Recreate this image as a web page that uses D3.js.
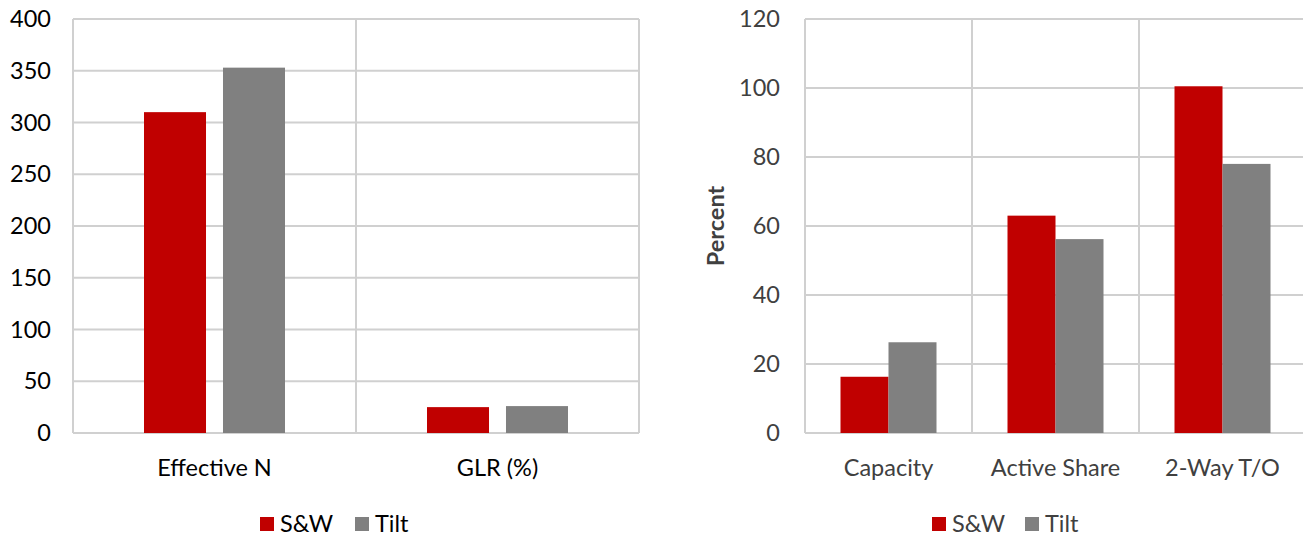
<!DOCTYPE html>
<html><head><meta charset="utf-8">
<script src="https://cdn.jsdelivr.net/npm/d3@7"></script>
<style>body{margin:0;background:#fff}svg{display:block}text{font-family:Lato,"Open Sans",sans-serif}</style>
</head><body><svg id="c" width="1303" height="538"></svg>
<script>
const series = ["S&W", "Tilt"];
const colors = ["#c00000", "#808080"];
const leftCategories = ["Effective N", "GLR (%)"];
const leftSW = [310, 25];
const leftTilt = [353, 26];
const leftTicks = [0, 50, 100, 150, 200, 250, 300, 350, 400];
const rightCategories = ["Capacity", "Active Share", "2-Way T/O"];
const rightSW = [16.3, 63.0, 100.5];
const rightTilt = [26.3, 56.2, 78.0];
const rightTicks = [0, 20, 40, 60, 80, 100, 120];

const svg = d3.select("#c");
const grid = "#d0d0d0";
const FS = 23.5;

function chart(o) {
  const g = svg.append("g");
  const x = d3.scaleBand().domain(o.cats).range([o.x0, o.x1]);
  const y = d3.scaleLinear().domain([0, o.max]).range([433, 19]);
  const inner = d3.scaleBand().domain(series).range([0, o.groupW]).paddingInner(o.gap);
  g.selectAll(".h").data(o.ticks).join("line")
    .attr("x1", o.x0).attr("x2", o.x1).attr("y1", d => y(d)).attr("y2", d => y(d))
    .attr("stroke", grid).attr("stroke-width", 2);
  const bounds = o.cats.map(c => x(c)).concat([o.x1]);
  g.selectAll(".v").data(bounds).join("line")
    .attr("x1", d => d).attr("x2", d => d).attr("y1", y(o.max)).attr("y2", y(0))
    .attr("stroke", grid).attr("stroke-width", 2);
  const data = [];
  o.cats.forEach((c, i) => { data.push({c, s: "S&W", v: o.sw[i]}); data.push({c, s: "Tilt", v: o.tilt[i]}); });
  g.selectAll(".b").data(data).join("rect")
    .attr("x", d => x(d.c) + (x.bandwidth() - o.groupW) / 2 + inner(d.s))
    .attr("width", inner.bandwidth())
    .attr("y", d => y(d.v)).attr("height", d => y(0) - y(d.v))
    .attr("fill", d => colors[series.indexOf(d.s)]);
  const ya = d3.axisLeft(y).tickValues(o.ticks).tickSize(0).tickPadding(0);
  const yg = g.append("g").attr("transform", `translate(${o.labelX},0)`).call(ya);
  yg.select(".domain").remove();
  yg.selectAll("text").attr("font-size", FS).attr("fill", o.textColor).attr("font-family", "Lato");
  const xa = d3.axisBottom(x).tickSize(0).tickPadding(0);
  const xg = g.append("g").attr("transform", `translate(0,459)`).call(xa);
  xg.select(".domain").remove();
  xg.selectAll("text").attr("font-size", FS).attr("fill", o.textColor).attr("font-family", "Lato");
  const lg = g.append("g").attr("transform", `translate(${o.legendX},517)`);
  series.forEach((s, i) => {
    const off = i === 0 ? 0 : o.legendGap;
    lg.append("rect").attr("x", off).attr("y", 0).attr("width", 14).attr("height", 14).attr("fill", colors[i]);
    lg.append("text").attr("x", off + 20).attr("y", 15).attr("font-size", FS).attr("fill", o.textColor).text(s);
  });
  if (o.title) {
    g.append("text").attr("transform", `translate(724,226) rotate(-90)`).attr("text-anchor", "middle")
      .attr("font-size", FS).attr("font-weight", "bold").attr("fill", "#404040").text(o.title);
  }
}

chart({cats: leftCategories, sw: leftSW, tilt: leftTilt, ticks: leftTicks, max: 400,
  x0: 73, x1: 639, groupW: 141, gap: 0.215, labelX: 51, textColor: "#000", legendX: 260, legendGap: 95});
chart({cats: rightCategories, sw: rightSW, tilt: rightTilt, ticks: rightTicks, max: 120,
  x0: 805, x1: 1306, groupW: 96, gap: 0, labelX: 780, textColor: "#404040", legendX: 932, legendGap: 93, title: "Percent"});
</script></body></html>
